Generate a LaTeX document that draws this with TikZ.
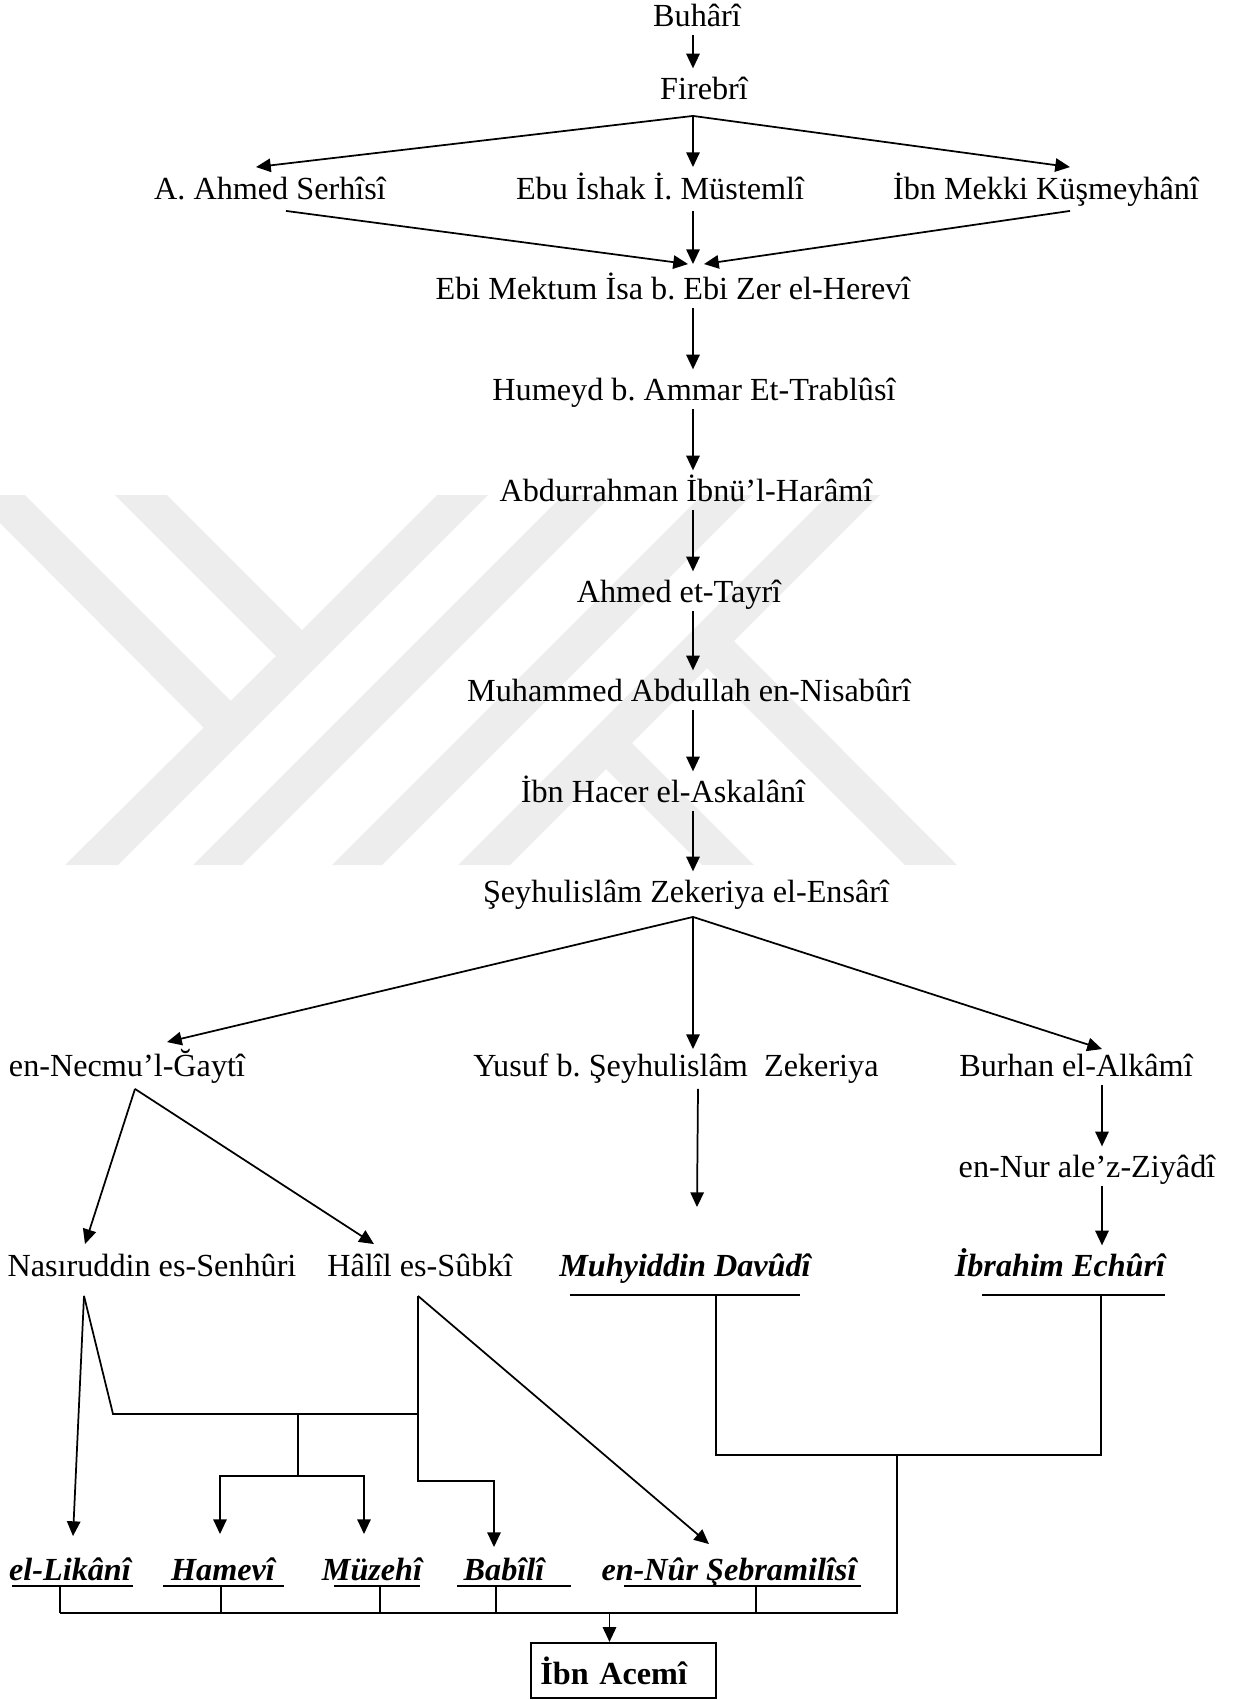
\documentclass[tikz,border=0pt]{standalone}
\usepackage{fontspec}
\setmainfont{Liberation Serif}
\usetikzlibrary{calc,positioning,arrows.meta}

\tikzset{
  nm/.style={inner sep=0pt,anchor=base,text height=8.6pt,text depth=3pt},
  bi/.style={nm,font=\fontsize{12}{14}\selectfont\bfseries\itshape},
  arr/.style={-{Triangle[length=5.5pt,width=5pt]}},
  down/.style={arr,shorten >=2.5pt},
  wm/.style={fill=black!7},
}
\frenchspacing

\begin{document}
\begin{tikzpicture}[x=0.3727pt,y=-0.3727pt,line width=0.65pt,font=\fontsize{12}{14}\selectfont]
\useasboundingbox (0,0) rectangle (1241,1700);
% watermark
\fill[wm] (115,495) -- (167,495) -- (302,630) -- (437,495) -- (488,495) -- (118,865) -- (65,865) -- (276,656) -- cycle;
\fill[wm] (0,495) -- (25,495) -- (231,701) -- (204,728) -- (0,523) -- cycle;
\fill[wm] (563,495) -- (612,495) -- (242,865) -- (193,865) -- cycle;
\fill[wm] (702,495) -- (752,495) -- (382,865) -- (332,865) -- cycle;
\fill[wm] (828,495) -- (880,495) -- (510,865) -- (458,865) -- cycle;
\fill[wm] (734,641) -- (957,865) -- (905,865) -- (707,668) -- cycle;
\fill[wm] (632,743) -- (754,865) -- (702,865) -- (606,769) -- cycle;

\coordinate (ax) at (693,0);
\coordinate (bx) at (1102,0);

% upper chain
\node (bu) at (697,26) [nm] {Buhârî};
\node (fi) at (704,99) [nm] {Firebrî};
\node (se) at (270,199) [nm] {A. Ahmed Serhîsî};
\node (mu) at (660,199) [nm] {Ebu İshak İ. Müstemlî};
\node (ku) at (1046,199) [nm] {İbn Mekki Küşmeyhânî};
\node (he) at (673,299) [nm] {Ebi Mektum İsa b. Ebi Zer el-Herevî};
\node (hu) at (694,400) [nm] {Humeyd b. Ammar Et-Trablûsî};
\node (ab) at (686,501) [nm] {Abdurrahman İbnü’l-Harâmî};
\node (ah) at (679,602) [nm] {Ahmed et-Tayrî};
\node (mn) at (689,701) [nm] {Muhammed Abdullah en-Nisabûrî};
\node (ha) at (663,802) [nm] {İbn Hacer el-Askalânî};
\node (ze) at (686,902) [nm] {Şeyhulislâm Zekeriya el-Ensârî};

\draw[down] (bu.south -| ax) -- (fi.north -| ax);
\coordinate (f1) at ($(fi.south -| ax)+(0,8)$);
\draw[arr] (f1) -- ($(se.north)+(-14,-8)$);
\draw[arr] (f1) -- ($(mu.north -| ax)+(0,-8)$);
\draw[arr] (f1) -- ($(ku.north)+(24,-8)$);
\draw[arr] ($(se.south)+(16,3)$) -- ($(he.north)+(15,-11)$);
\draw[arr] ($(mu.south -| ax)+(0,3)$) -- ($(he.north -| ax)+(0,-11)$);
\draw[arr] ($(ku.south)+(24,3)$) -- ($(he.north)+(31,-11)$);
\foreach \a/\b in {he/hu,hu/ab,ab/ah,ah/mn,mn/ha,ha/ze}
  \draw[down] (\a.south -| ax) -- (\b.north -| ax);

% lower part
\node (ne) at (127,1076) [nm] {en-Necmu’l-Ğaytî};
\node (yu) at (676,1076) [nm] {Yusuf b. Şeyhulislâm\ \ Zekeriya};
\node (bh) at (1076,1076) [nm] {Burhan el-Alkâmî};
\node (zi) at (1087,1177) [nm] {en-Nur ale’z-Ziyâdî};
\node (na) at (152,1276) [nm] {Nasıruddin es-Senhûri};
\node (hl) at (420,1276) [nm] {Hâlîl es-Sûbkî};
\node (md) at (685,1276) [bi] {Muhyiddin Davûdî};
\node (ec) at (1060,1276) [bi] {İbrahim Echûrî};
\node (li) at (70,1580) [bi] {el-Likânî};
\node (hm) at (223,1580) [bi] {Hamevî};
\node (mz) at (372,1580) [bi] {Müzehî};
\node (bb) at (504,1580) [bi] {Babîlî};
\node (nr) at (729,1580) [bi] {en-Nûr Şebramilîsî};
\node (ia) at (623.5,1670.5) [draw,line width=0.8pt,minimum height=20.5pt,text width=62pt,inner sep=3.5pt,font=\fontsize{12}{14}\selectfont\bfseries] {İbn Acemî};

\coordinate (f2) at ($(ze.south -| ax)+(0,6)$);
\draw[arr] (f2) -- ($(ne.north)+(40,-10)$);
\draw[arr] (f2) -- ($(yu.north -| f2)+(0,-3)$);
\draw[arr] (f2) -- ($(bh.north)+(26,-3)$);
\draw[down] (bh.south -| bx) -- (zi.north -| bx);
\draw[down] (zi.south -| bx) -- (ec.north -| bx);

\coordinate (f3) at ($(ne.south)+(8,4)$);
\draw[arr] (f3) -- ($(na.north)+(-67,-8)$);
\draw[arr] (f3) -- ($(hl.north)+(-46,-8)$);
\draw[arr] ($(yu.south)+(22,4)$) -- ($(md.north)+(12,-45)$);

% underlines
\draw ($(md.base)+(-115,19)$) -- ($(md.base)+(115,19)$);
\draw ($(ec.base)+(-78,19)$) -- ($(ec.base)+(105,19)$);
\draw[line width=0.95pt] ($(ec.base)+(-14,19)$) -- ($(ec.base)+(12,19)$);
\foreach \n/\l/\r in {li/-58/63,hm/-60/61,mz/-38/48,bb/-47/67,nr/-105/132}
  \draw ($(\n.base)+(\l,6)$) -- ($(\n.base)+(\r,6)$);
\foreach \n/\d in {li/-10,hm/-2,mz/8,bb/-8,nr/27}
  \draw ($(\n.base)+(\d,6)$) -- ($(\n.base)+(\d,33)$);

% Nasiruddin and Halil
\coordinate (n0) at ($(na.south)+(-68,11)$);
\coordinate (h0) at ($(hl.south)+(-2,11)$);
\coordinate (b0) at ($(hl.south)+(-122,129)$);
\draw[arr] (n0) -- ($(li.north)+(3,-20)$);
\draw (n0) -- ++(29,118) -- ($(hl.south)+(-2,129)$);
\draw[arr] (h0) -- ++(0,185) -| ($(bb.north)+(-10,-9)$);
\draw[arr] (h0) -- ($(nr.north)+(-20,-12)$);
\draw[arr] (b0) -- ++(0,62) -| ($(hm.north)+(-3,-22)$);
\draw[arr] (b0) -- ++(0,62) -| ($(mz.north)+(-8,-22)$);

% joining to Ibn Acemi
\coordinate (m1) at ($(md.base)+(31,19)$);
\coordinate (j4) at (897,1455);
\coordinate (j5) at ($(li.base)+(-10,33)$);
\draw (m1) |- ($(ec.base)+(41,179)$) -- ($(ec.base)+(41,19)$);
\draw (j5) -| (j4);
\draw[arr] ($(ia.north)+(-14,-30)$) -- ($(ia.north)+(-14,0)$);
\end{tikzpicture}
\end{document}
